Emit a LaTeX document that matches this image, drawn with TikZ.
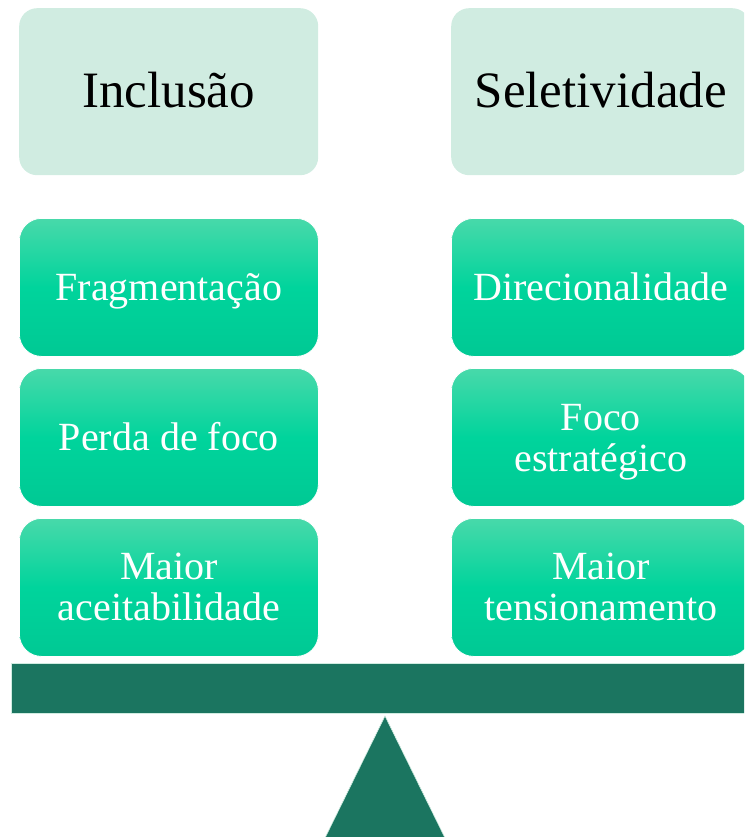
\documentclass[tikz,border=0pt]{standalone}
\usepackage{fontspec}
\setmainfont{Liberation Serif}
\definecolor{headfill}{HTML}{D0ECE1}
\definecolor{gtop}{HTML}{48D9AA}
\definecolor{gmid}{HTML}{00D49C}
\definecolor{gbot}{HTML}{00C994}
\definecolor{beamcol}{HTML}{1B7560}
\tikzset{
  headbox/.style={anchor=north west, rounded corners=18pt, fill=headfill,
    minimum width=299pt, minimum height=167pt, inner sep=0pt, align=center,
    font=\fontsize{51}{56}\selectfont, text=black, text height=44pt, text depth=13pt},
  itembox/.style={anchor=north west, rounded corners=22pt, top color=gtop, bottom color=gbot, middle color=gmid,
    draw=white, line width=0.8pt,
    minimum width=299pt, minimum height=138pt, inner sep=0pt, align=center,
    font=\fontsize{40}{41}\selectfont, text=white},
  oneline/.style={text height=36pt, text depth=10pt},
}
\begin{document}
\begin{tikzpicture}[x=1pt,y=-1pt]
\useasboundingbox (0,0) rectangle (744,837);
\clip (0,0) rectangle (744,837);
\node[headbox] (inc) at (19,8) {Inclusão};
\node[headbox] (sel) at (451,8) {Seletividade};
\node[itembox, oneline] (frag) at (19,218) {Fragmentação};
\node[itembox, oneline] (perda) at (19,368) {Perda de foco};
\node[itembox] (maiora) at (19,518) {Maior\\aceitabilidade};
\node[itembox, oneline] (dir) at (451,218) {Direcionalidade};
\node[itembox, text depth=0pt] (foco) at (451,368) {Foco\\estratégico};
\node[itembox] (maiort) at (451,518) {Maior\\tensionamento};
\fill[beamcol, draw=headfill, line width=0.6pt] (11,663) rectangle (760,713);
\fill[beamcol, draw=headfill, line width=0.6pt] (385,716) -- (446,840) -- (324,840) -- cycle;
\end{tikzpicture}
\end{document}
